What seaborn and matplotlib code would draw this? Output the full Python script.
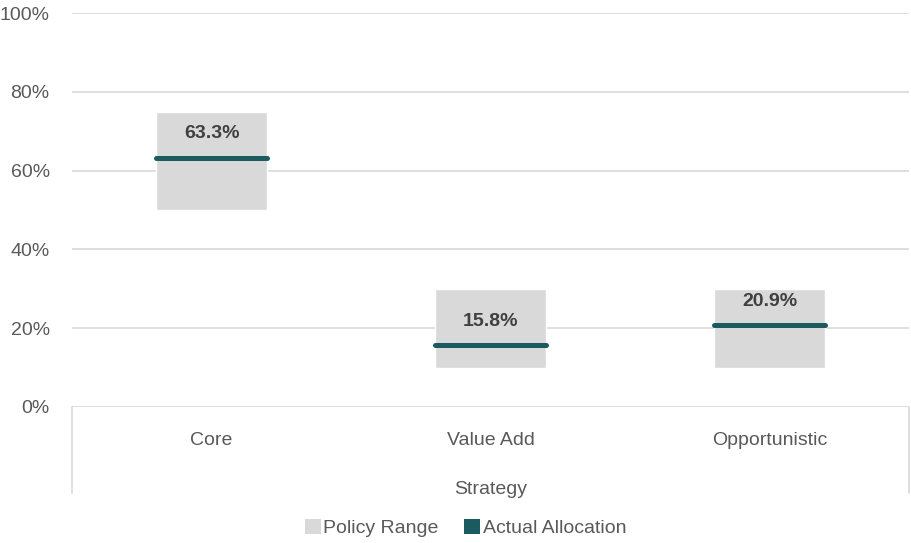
import matplotlib
matplotlib.use("Agg")
import matplotlib.pyplot as plt
import matplotlib.transforms as mtransforms
from matplotlib.patches import Patch
import numpy as np
import seaborn as sns

strategies = ["Core", "Value Add", "Opportunistic"]
policy_low = [50, 10, 10]
policy_high = [75, 30, 30]
actual = [63.3, 15.8, 20.9]
y_ticks = [0, 20, 40, 60, 80, 100]

grey = "#d9d9d9"
teal = "#1b5a5e"
txt = "#595959"

sns.set_style("white")
plt.rcParams["font.family"] = ["Liberation Sans", "DejaVu Sans"]

fig = plt.figure(figsize=(9.11, 5.43), dpi=100)
ax = fig.add_axes([0.079, 0.2505, 0.919, 0.7255])

heights = np.array(policy_high) - np.array(policy_low)
sns.barplot(x=strategies, y=heights, bottom=policy_low, color=grey,
            saturation=1, width=0.4, ax=ax, zorder=2)

for i, v in enumerate(actual):
    ax.plot([i - 0.2, i + 0.2], [v, v], color=teal, lw=3.6,
            solid_capstyle="round", zorder=3)
    ax.annotate(f"{v:.1f}%", (i, v), xytext=(0, 17), textcoords="offset points",
                ha="center", va="center", fontsize=14, fontweight="bold",
                color="#404040", zorder=4)

ax.set_xlim(-0.5, 2.5)
ax.set_ylim(0, 100)
ax.set_yticks(y_ticks)
ax.set_yticklabels([f"{t}%" for t in y_ticks])
ax.yaxis.grid(True, color=grey, lw=1.2, zorder=0)
ax.set_axisbelow(True)
for s in ax.spines.values():
    s.set_visible(False)
ax.tick_params(axis="y", length=0, pad=16, labelsize=14, labelcolor=txt)
ax.tick_params(axis="x", length=0, pad=18, labelsize=14, labelcolor=txt)
ax.set_xlabel("Strategy", fontsize=14, color=txt, labelpad=23)
ax.set_ylabel("")

# category axis frame below the plot
trans = mtransforms.blended_transform_factory(ax.transData, ax.transAxes)
for xx in (-0.5, 2.5):
    ax.plot([xx, xx], [0, -0.218], transform=trans, color=grey, lw=1.2,
            clip_on=False)

handles = [Patch(facecolor=grey, edgecolor="none", label="Policy Range"),
           Patch(facecolor=teal, edgecolor="none", label="Actual Allocation")]
leg = fig.legend(handles=handles, loc="lower center", bbox_to_anchor=(0.511, -0.022),
                 ncol=2, frameon=False, fontsize=14, handlelength=0.8,
                 handleheight=0.8, handletextpad=0.15, columnspacing=1.3)
for t in leg.get_texts():
    t.set_color(txt)

fig.savefig("out.png", dpi=100)
